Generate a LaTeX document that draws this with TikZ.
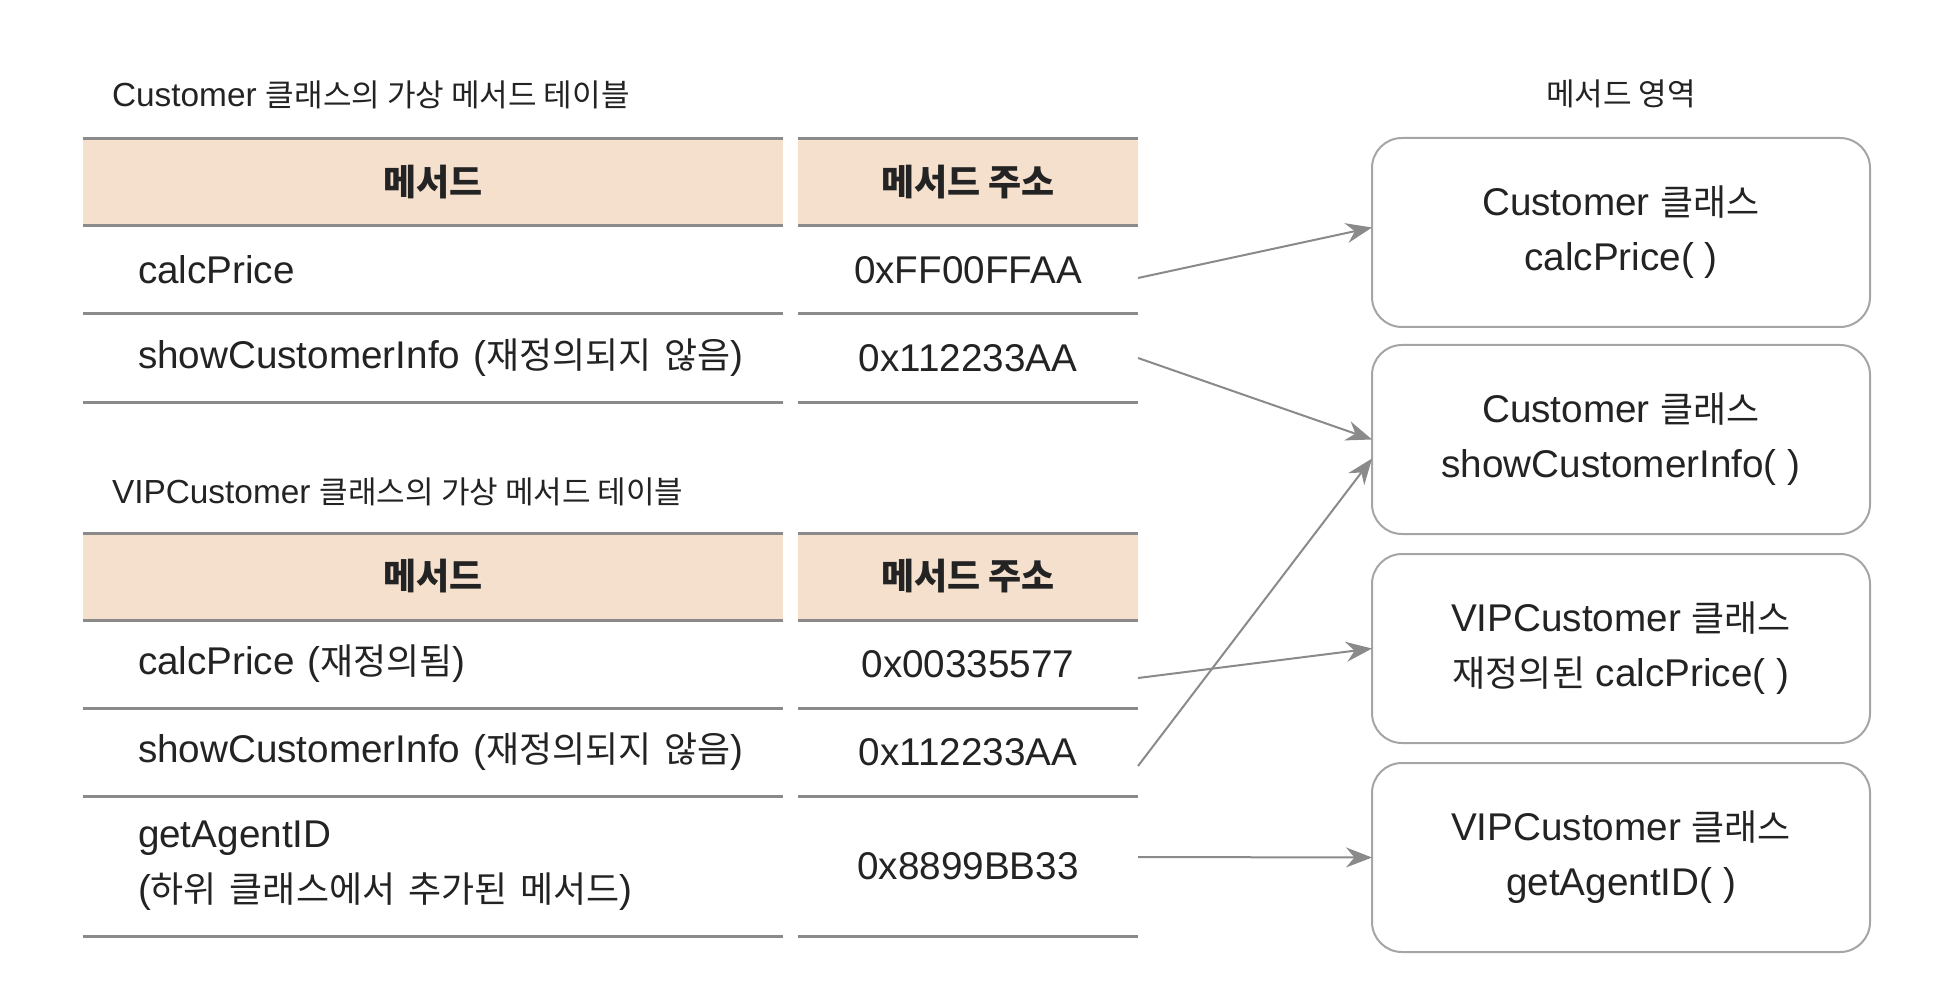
\documentclass[tikz,border=0pt]{standalone}
\usepackage{fontspec}
\setmainfont{Liberation Sans}
\newfontfamily\kr[Scale=0.93]{Noto Sans CJK KR}
\usepackage{tikz}
\usepackage{xcolor}
\usetikzlibrary{arrows.meta,positioning}
\definecolor{headfill}{RGB}{244,224,205}
\definecolor{rulegray}{RGB}{138,138,138}
\definecolor{boxgray}{RGB}{165,165,165}
\definecolor{textdark}{RGB}{35,35,35}

\begin{document}
\begin{tikzpicture}[
    every node/.style={text=textdark, outer sep=0pt},
    caption/.style={inner sep=0pt, font=\fontsize{9.5}{11}\selectfont},
    hcell/.style={fill=headfill, inner sep=0pt, minimum height=0.87cm, font=\fontsize{11}{13}\selectfont\bfseries},
    mcell/.style={inner xsep=0.55cm, inner ysep=0pt, text width=6.2cm, align=left, minimum height=0.88cm, font=\fontsize{11}{15.6}\selectfont},
    acell/.style={inner sep=0pt, minimum width=3.4cm, minimum height=0.88cm, font=\fontsize{11}{13}\selectfont},
    rule/.style={draw=rulegray, line width=0.03cm},
    method/.style={draw=boxgray, line width=0.02cm, rounded corners=0.3cm, minimum width=4.98cm, minimum height=1.89cm, align=center, font=\fontsize{11}{15.6}\selectfont},
    arrow/.style={draw=rulegray, line width=0.02cm, -{Stealth[length=0.26cm, width=0.2cm]}}
]
\useasboundingbox (0,0) rectangle (19.58,-10.08);

% Customer table
\node[caption, anchor=west] (cTitle) at (1.12,-0.95) {Customer {\kr 클래스의 가상 메서드 테이블}};
\node[hcell, minimum width=7cm, anchor=north west] (cHead) at (0.83,-1.39) {\kr 메서드};
\node[hcell, minimum width=3.4cm, right=0.15cm of cHead] (cHeadAddr) {\kr 메서드 주소};
\node[mcell, below=0pt of cHead.south west, anchor=north west] (cCalc) {calcPrice};
\node[acell, below=0pt of cHeadAddr] (cCalcAddr) {0xFF00FFAA};
\node[mcell, below=0pt of cCalc.south west, anchor=north west] (cShow) {showCustomerInfo ({\kr 재정의되지 않음})};
\node[acell, below=0pt of cCalcAddr] (cShowAddr) {0x112233AA};

% VIPCustomer table
\node[caption, anchor=west] (vTitle) at (1.12,-4.92) {VIPCustomer {\kr 클래스의 가상 메서드 테이블}};
\node[hcell, minimum width=7cm, anchor=north west] (vHead) at (0.83,-5.33) {\kr 메서드};
\node[hcell, minimum width=3.4cm, right=0.15cm of vHead] (vHeadAddr) {\kr 메서드 주소};
\node[mcell, below=0pt of vHead.south west, anchor=north west] (vCalc) {calcPrice ({\kr 재정의됨})};
\node[acell, below=0pt of vHeadAddr] (vCalcAddr) {0x00335577};
\node[mcell, below=0pt of vCalc.south west, anchor=north west] (vShow) {showCustomerInfo ({\kr 재정의되지 않음})};
\node[acell, below=0pt of vCalcAddr] (vShowAddr) {0x112233AA};
\node[mcell, below=0pt of vShow.south west, anchor=north west, minimum height=1.4cm] (vAgent) {getAgentID\\({\kr 하위 클래스에서 추가된 메서드})};
\node[acell, below=0pt of vShowAddr, minimum height=1.4cm] (vAgentAddr) {0x8899BB33};

% Table rules
\draw[rule] (cHead.north west) -- (cHead.north east) (cHeadAddr.north west) -- (cHeadAddr.north east);
\draw[rule] (cHead.south west) -- (cHead.south east) (cHeadAddr.south west) -- (cHeadAddr.south east);
\draw[rule] (cCalc.south west) -- (cCalc.south west -| cHead.east) (cCalcAddr.south west) -- (cCalcAddr.south east);
\draw[rule] (cShow.south west) -- (cShow.south west -| cHead.east) (cShowAddr.south west) -- (cShowAddr.south east);

\draw[rule] (vHead.north west) -- (vHead.north east) (vHeadAddr.north west) -- (vHeadAddr.north east);
\draw[rule] (vHead.south west) -- (vHead.south east) (vHeadAddr.south west) -- (vHeadAddr.south east);
\draw[rule] (vCalc.south west) -- (vCalc.south west -| vHead.east) (vCalcAddr.south west) -- (vCalcAddr.south east);
\draw[rule] (vShow.south west) -- (vShow.south west -| vHead.east) (vShowAddr.south west) -- (vShowAddr.south east);
\draw[rule] (vAgent.south west) -- (vAgent.south west -| vHead.east) (vAgentAddr.south west) -- (vAgentAddr.south east);

% Method area
\node[method, anchor=north west] (mCalc) at (13.72,-1.38) {Customer {\kr 클래스}\\calcPrice( )};
\node[method, below=0.18cm of mCalc] (mShow) {Customer {\kr 클래스}\\showCustomerInfo( )};
\node[method, below=0.2cm of mShow] (mVipCalc) {VIPCustomer {\kr 클래스}\\{\kr 재정의된} calcPrice( )};
\node[method, below=0.2cm of mVipCalc] (mAgent) {VIPCustomer {\kr 클래스}\\getAgentID( )};
\node[caption, above=0.3cm of mCalc] (areaTitle) {\kr 메서드 영역};

% Pointers
\draw[arrow] ([yshift=-0.08cm]cCalcAddr.east) -- ([yshift=0.05cm]mCalc.west);
\draw[arrow] (cShowAddr.east) -- (mShow.west);
\draw[arrow] ([yshift=-0.14cm]vCalcAddr.east) -- (mVipCalc.west);
\draw[arrow] ([yshift=-0.14cm]vShowAddr.east) -- ([yshift=-0.19cm]mShow.west);
\draw[arrow] ([yshift=0.09cm]vAgentAddr.east) -- (mAgent.west);
\end{tikzpicture}
\end{document}
